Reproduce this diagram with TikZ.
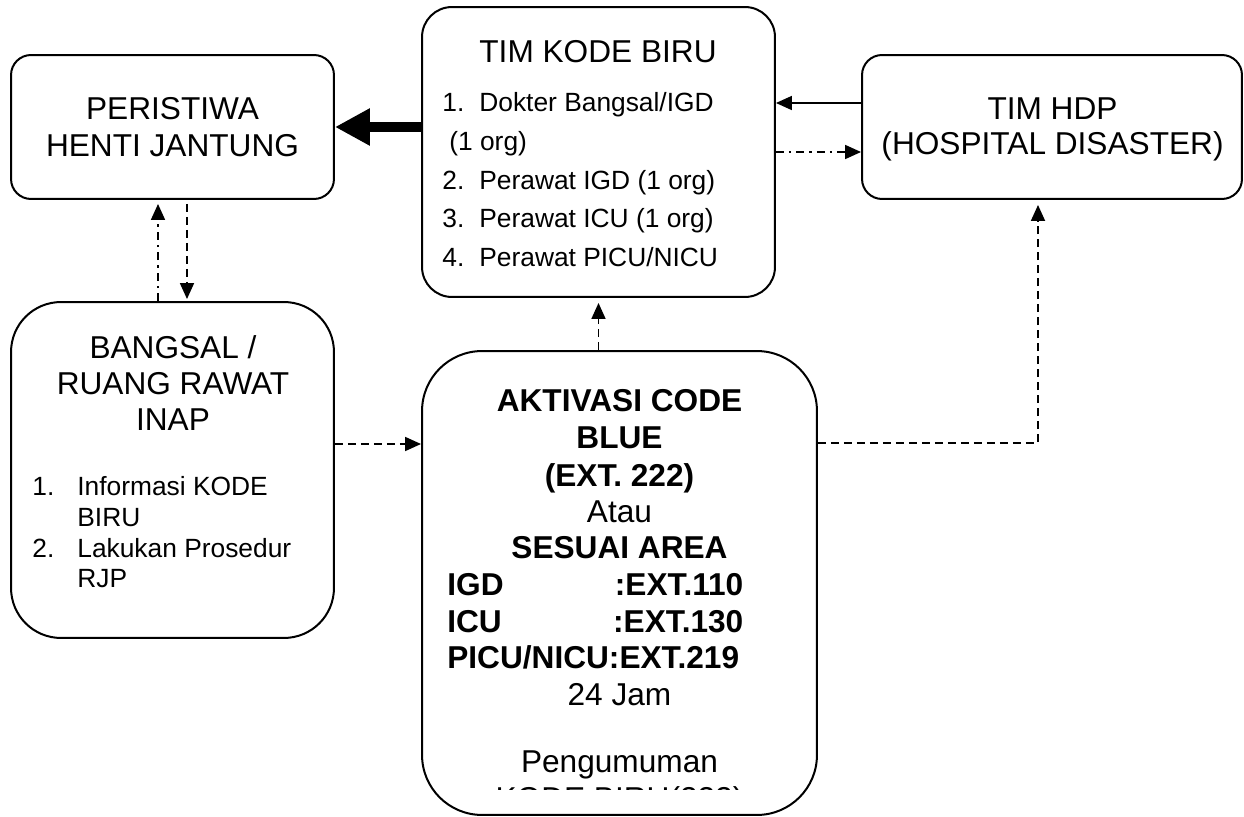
\documentclass[tikz,border=0pt]{standalone}
\usepackage{fontspec}
\setmainfont{Liberation Sans}
\usetikzlibrary{arrows.meta}

\tikzset{
  box/.style={draw, line width=0.04cm, rounded corners=#1},
  ttl/.style={anchor=base, inner sep=0pt, font=\fontsize{18}{21}\selectfont},
  itm/.style={anchor=base west, inner sep=0pt, font=\fontsize{15}{17}\selectfont},
  con/.style={line width=0.035cm, -{Triangle[length=0.32cm,width=0.28cm]}},
  dsh/.style={dash pattern=on 0.16cm off 0.1cm},
  ddot/.style={dash pattern=on 0.16cm off 0.1cm on 0.05cm off 0.1cm},
}

\begin{document}
\begin{tikzpicture}[x=0.02cm, y=-0.02cm]
  \useasboundingbox (0,0) rectangle (1244,817);

  % boxes
  \node[box=0.4cm, minimum width=6.46cm, minimum height=2.88cm] (peri) at (172.5,127) {};
  \node[box=0.6cm, minimum width=7.06cm, minimum height=5.8cm] (kode) at (598.5,152) {};
  \node[box=0.4cm, minimum width=7.6cm, minimum height=2.88cm] (hdp) at (1052,127) {};
  \node[box=1.0cm, minimum width=6.46cm, minimum height=6.72cm] (bang) at (172.5,470) {};
  \node[box=1.2cm, minimum width=7.9cm, minimum height=9.28cm] (akt) at (619.5,583) {};

  % peristiwa
  \node[ttl] (peri1) at (172.5,120) {PERISTIWA};
  \node[ttl] (peri2) at (172.5,157) {HENTI JANTUNG};

  % tim kode biru
  \node[ttl] (kode0) at (598,63) {TIM KODE BIRU};
  \node[itm] (kn1) at (442,112) {1.};
  \node[itm] (kt1) at (479,112) {Dokter Bangsal/IGD};
  \node[itm] (kt1b) at (449,151) {(1 org)};
  \node[itm] (kn2) at (442,190) {2.};
  \node[itm] (kt2) at (479,190) {Perawat IGD (1 org)};
  \node[itm] (kn3) at (442,228) {3.};
  \node[itm] (kt3) at (479,228) {Perawat ICU (1 org)};
  \node[itm] (kn4) at (442,267) {4.};
  \node[itm] (kt4) at (479,267) {Perawat PICU/NICU};

  % tim hdp
  \node[ttl] (hdp1) at (1052.5,120) {TIM HDP};
  \node[ttl] (hdp2) at (1052.5,155) {(HOSPITAL DISASTER)};

  % bangsal
  \node[ttl] (bang1) at (173,358) {BANGSAL /};
  \node[ttl] (bang2) at (173,395) {RUANG RAWAT};
  \node[ttl] (bang3) at (173,430) {INAP};
  \node[itm] (bn1) at (32,495) {1.};
  \node[itm] (bt1) at (77,495) {Informasi KODE};
  \node[itm] (bt1b) at (77,526) {BIRU};
  \node[itm] (bn2) at (32,557) {2.};
  \node[itm] (bt2) at (77,557) {Lakukan Prosedur};
  \node[itm] (bt2b) at (77,587) {RJP};

  % aktivasi
  \node[ttl, font=\fontsize{18}{21}\selectfont\bfseries] (akt1) at (619.5,412) {AKTIVASI CODE};
  \node[ttl, font=\fontsize{18}{21}\selectfont\bfseries] (akt2) at (619.5,448) {BLUE};
  \node[ttl, font=\fontsize{18}{21}\selectfont\bfseries] (akt3) at (619.5,486) {(EXT. 222)};
  \node[ttl] (akt4) at (619.5,522) {Atau};
  \node[ttl, font=\fontsize{18}{21}\selectfont\bfseries] (akt5) at (619.5,558) {SESUAI AREA};
  \node[ttl, anchor=base west, font=\fontsize{18}{21}\selectfont\bfseries] (ext1) at (447,595) {\makebox[5.92cm][s]{IGD\hfill:EXT.110}};
  \node[ttl, anchor=base west, font=\fontsize{18}{21}\selectfont\bfseries] (ext2) at (447,632) {\makebox[5.92cm][s]{ICU\hfill:EXT.130}};
  \node[ttl, anchor=base west, font=\fontsize{18}{21}\selectfont\bfseries] (ext3) at (447,668) {\makebox[5.92cm][s]{PICU/NICU:EXT.219}};
  \node[ttl] (akt6) at (619.5,705) {24 Jam};
  \node[ttl] (akt7) at (619.5,772) {Pengumuman};
  \begin{scope}
    \clip (422,700) rectangle (817,789);
    \node[ttl] (akt8) at (619.5,809.5) {KODE BIRU(222)};
  \end{scope}

  % connectors
  \draw[line width=0.2cm, -{Triangle[length=0.7cm,width=0.7cm]}] (kode.west |- peri.east) -- (peri.east);
  \draw[con] ([yshift=0.48cm]hdp.west) -- ([yshift=0.48cm]hdp.west -| kode.east);
  \draw[con, ddot] (kode.east) -- (kode.east -| hdp.west);
  \draw[con, ddot, shorten >=0.08cm] ([xshift=-0.29cm]bang.north) -- ([xshift=-0.29cm]bang.north |- peri.south);
  \draw[con, dsh, shorten <=0.08cm, shorten >=0.04cm] ([xshift=0.29cm]peri.south) -- ([xshift=0.29cm]peri.south |- bang.north);
  \draw[con, dsh, shorten >=0.1cm] (akt.north -| kode.south) -- (kode.south);
  \draw[con, dsh] ([yshift=0.52cm]bang.east) -- ([yshift=0.52cm]bang.east -| akt.west);
  \draw[con, dsh, shorten >=0.1cm] ([yshift=2.8cm]akt.east) -| ([xshift=-0.28cm]hdp.south);
\end{tikzpicture}
\end{document}
